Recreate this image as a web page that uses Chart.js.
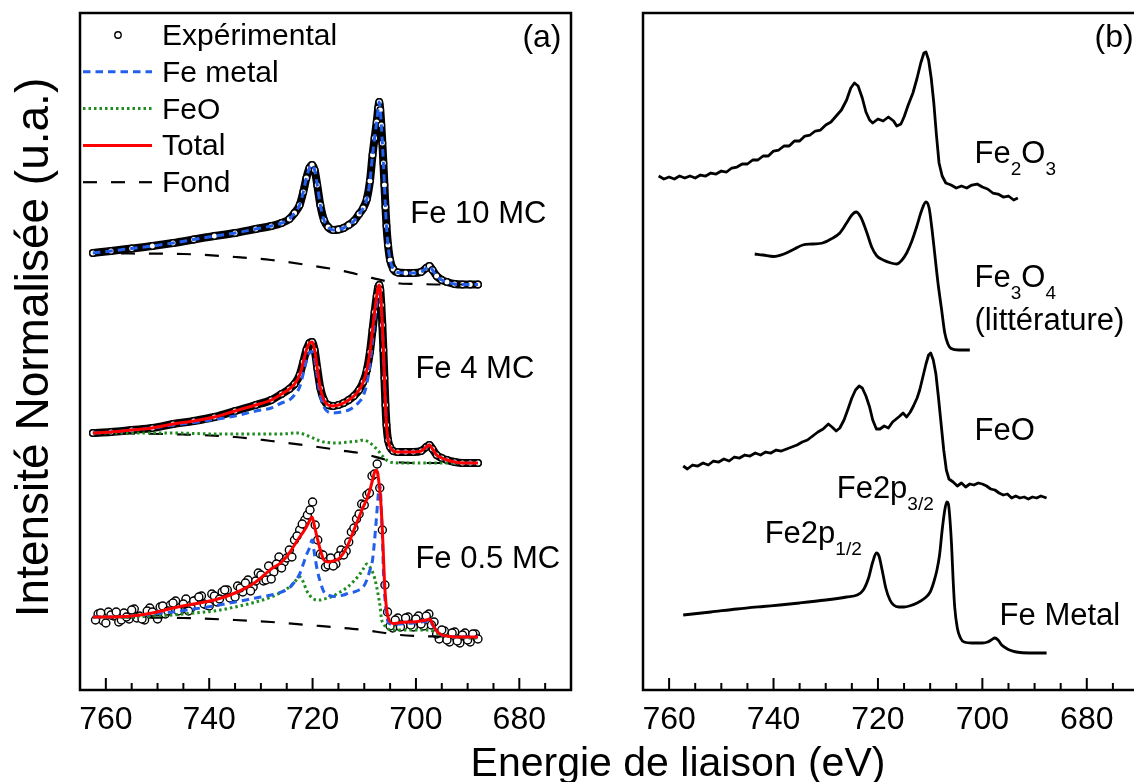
<!DOCTYPE html>
<html>
<head>
<meta charset="utf-8">
<title>Fe 2p XPS</title>
<script src="https://cdn.jsdelivr.net/npm/chart.js@4.4.1/dist/chart.umd.min.js"></script>
<style>
  html, body { margin: 0; padding: 0; background: #fff; width: 1134px; height: 782px; overflow: hidden; }
  #panelA { position: absolute; left: 0; top: 0; }
  #panelB { position: absolute; left: 600px; top: 0; }
  #xTitle {
    position: absolute; left: 378px; width: 600px; top: 741px;
    text-align: center; font: 41px/42px 'Liberation Sans', Arial, sans-serif; color: #000;
    white-space: nowrap;
  }
</style>
</head>
<body>
<canvas id="panelA" width="600" height="782"></canvas>
<canvas id="panelB" width="560" height="782"></canvas>
<div id="xTitle">Energie de liaison (eV)</div>
<script>
'use strict';

const FONT = "'Liberation Sans', Arial, Helvetica, sans-serif";

// binding energy axis (eV), shared by both panels
let xMin = 670;
let xMax = 765;
let majorTicks = [760, 740, 720, 700, 680];

// ---- panel (a): fitted spectra ----
let energyA = [762.5, 759, 755, 751, 747, 743, 739, 735, 731, 728,
  726, 724.5, 723.5, 722.5, 721.8, 721.2, 720.6, 720.1, 719.6, 719.1,
  718.5, 717.8, 717, 716, 715, 714, 713, 712, 711, 710.2,
  709.5, 708.9, 708.4, 708, 707.6, 707.3, 707.1, 706.9, 706.7, 706.5,
  706.3, 706.1, 705.9, 705.7, 705.4, 705, 704.4, 703.5, 702, 700.5,
  699, 698, 697.4, 696.8, 696, 695, 694, 692.5, 691, 689.5, 688];

// Fe 10 MC (data and Fe metal fit coincide)
let fe10 = [447, 449, 451.5, 454, 457, 460.5, 464, 467, 471, 474,
  477, 481, 487, 495, 508, 522, 532, 535, 530, 515,
  495, 480, 473, 470, 470.5, 472, 475, 479, 486, 492,
  501, 519, 545, 562, 578, 592, 598, 590, 575, 557,
  537, 515, 493, 474, 455, 440, 431, 427.5, 427, 427,
  428, 432, 434, 430, 424, 420, 418, 416, 415.5, 415.5, 415.5];

// Fe 4 MC
let fe4Total = [267, 268, 270, 272, 276, 279, 283, 289, 295, 300,
  306, 311, 316, 325, 338, 350, 357, 358, 350, 332,
  312, 300, 295, 294, 295, 297, 300, 304, 310, 318,
  330, 348, 370, 388, 404, 413, 415, 410, 395, 375,
  350, 322, 295, 275, 260, 253, 249, 248, 248, 248,
  249, 253, 255, 251, 245, 242, 240, 238, 237, 237, 237];
let fe4Metal = [267, 268, 270, 272, 275, 277.5, 280.5, 284, 289, 292,
  297, 300, 305, 313, 326.5, 339, 347, 348.5, 341.5, 324,
  304.5, 293, 288, 287, 287.5, 288.5, 290, 293, 298, 304,
  316.5, 336, 359.5, 379, 396.5, 407, 410, 406, 392, 373,
  348.5, 321, 294.5, 275, 260, 253, 249, 248, 248, 248,
  249, 253, 255, 251, 245, 242, 240, 238, 237, 237, 237];
let fe4FeO = [267, 267, 267, 267, 267, 266.5, 266, 266, 266, 266,
  266, 266.5, 267, 267, 266, 265, 263.5, 262.5, 261, 260,
  259, 258, 257.5, 257, 257, 257.5, 258, 258.5, 259, 260,
  259, 257, 255, 253, 251, 249, 248, 246.5, 245, 244,
  243, 242, 241, 240, 239, 238, 237.5, 237, 237, 237,
  237, 237, 237, 237, 237, 237, 237, 237, 237, 237, 237];

// Fe 0.5 MC
let fe05Total = [83, 83, 84, 87, 92, 96, 100, 107, 118, 131,
  138, 147, 155, 163, 168, 173, 179, 183, 173, 162,
  150, 140, 138, 139, 141, 147, 157, 170, 183, 193,
  201, 210, 220, 228, 230, 223, 215, 205, 190, 170,
  145, 120, 103, 92, 83, 78, 76.5, 77, 78, 78,
  79, 80, 81, 76, 69, 65, 64, 63, 63, 63, 63];
let fe05Metal = [83, 83, 84, 86, 88, 91, 94, 98, 102, 105,
  108, 112, 118, 126, 136, 145, 152, 160, 145, 130,
  118, 108, 105, 103.5, 104, 105, 107, 108, 110, 113,
  120, 130, 140, 160, 185, 205, 215, 212, 190, 165,
  130, 108, 96, 86, 78, 76, 75.5, 76, 76.5, 77,
  78, 79, 80, 75, 69, 65, 64, 63, 63, 63, 63];
let fe05FeO = [83, 83, 83, 84, 85, 87, 89, 93, 98, 103,
  108, 113, 118, 123, 118, 110, 105, 102, 100.5, 100,
  100, 101, 102, 104, 107, 110, 114, 119, 125, 131,
  136, 133, 128, 122, 113, 105, 99, 92, 82, 78,
  77, 75, 73, 72, 71, 70.5, 70, 70, 70, 70,
  70, 70, 70, 69, 67, 65, 64, 63, 62.5, 62, 62];

// measured points, 0.5 MC (two interleaved scans)
let energyExp05 = [762, 761, 760, 759, 758, 757, 756, 755, 754, 753,
  752, 751, 750, 749, 748, 747, 746, 745, 744, 743,
  742, 741, 740, 739, 738, 737, 736, 735, 734, 733,
  732, 731, 730, 729, 728, 727, 726, 725, 724, 723,
  722, 721, 720.5, 720, 719, 718, 717, 716, 715, 714,
  713, 712, 711, 710, 709, 708, 707.5, 707, 706.5, 706,
  705.5, 705, 704, 703, 702, 701, 700, 699, 698, 697,
  696, 695, 694, 693, 692, 691, 690, 689, 688];
let fe05Exp = [80, 87, 77, 85, 88, 80, 83, 90, 82, 81,
  89, 88, 81, 94, 89, 97, 89, 96, 89, 99,
  103, 96, 94, 104, 101, 110, 102, 103, 112, 117,
  109, 119, 125, 120, 121, 136, 132, 142, 143, 164,
  176, 185, 190, 198, 160, 145, 135, 134, 144, 145,
  158, 172, 186, 195, 207, 226, 236, 212, 170, 115,
  88, 74, 80, 73, 82, 75, 81, 76, 84, 75,
  66, 70, 60, 67, 59, 65, 60, 66, 61];
let energyExp05b = [761.5, 760.5, 759.5, 758.5, 757.5, 756.5, 755.5, 754.5, 753.5, 752.5,
  751.5, 750.5, 749.5, 748.5, 747.5, 746.5, 745.5, 744.5, 743.5, 742.5,
  741.5, 740.5, 739.5, 738.5, 737.5, 736.5, 735.5, 734.5, 733.5, 732.5,
  731.5, 730.5, 729.5, 728.5, 727.5, 726.5, 725.5, 724.5, 723.5, 722.5,
  721.5, 719.5, 718.5, 717.5, 716.5, 715.5, 714.5, 713.5, 712.5, 711.5,
  710.5, 709.5, 708.5, 704.5, 703.5, 702.5, 701.5, 700.5, 699.5, 698.5,
  697.5, 696.5, 695.5, 694.5, 693.5, 692.5, 691.5, 690.5, 689.5, 688.5];
let fe05ExpB = [86, 79, 88, 84, 78, 87, 81, 91, 84, 80,
  92, 85, 93, 86, 95, 99, 90, 101, 92, 100,
  104, 95, 106, 98, 108, 110, 101, 114, 108, 120,
  113, 127, 119, 134, 128, 143, 138, 150, 160, 170,
  180, 175, 146, 133, 142, 136, 150, 149, 168, 181,
  196, 205, 224, 72, 82, 74, 83, 73, 84, 74,
  86, 78, 61, 69, 58, 68, 57, 67, 58, 66];

// Shirley-type backgrounds ("Fond")
let energyBg = [762.5, 755, 745, 735, 728, 721, 715, 710, 706, 703, 700, 695, 688];
let bg10 = [447, 446.5, 446, 443, 440, 435, 430, 424, 419, 416.5, 416, 415.5, 415.5];
let bg4 = [267, 266.5, 265.5, 263, 259, 254.5, 250, 246, 240.5, 237.5, 237, 237, 237];
let bg05 = [83, 82.5, 82, 80, 78, 75, 72.5, 70, 67, 65, 64, 63.5, 63];

// ---- panel (b): reference spectra ----
let energyFe2O3 = [762, 761, 760, 759, 758, 757, 756, 755, 754, 753,
  752, 751, 750, 749, 748, 747, 746, 745, 744, 743,
  742, 741, 740, 739, 738, 737, 736, 735, 734, 733,
  732, 731, 730, 729, 728, 727, 726, 725.2, 724.5, 723.8,
  723, 722.3, 721.6, 721, 720, 719, 718, 717, 716.4, 715.6,
  715, 714.2, 713.3, 712.5, 711.8, 711.2, 710.8, 710.3, 709.8, 709.3,
  708.8, 708.3, 707.7, 707, 706, 705, 704, 703, 702, 701,
  700, 699, 698, 697, 696, 695, 694, 693.2];
let fe2o3 = [524, 521, 523, 521, 524, 522, 524, 522, 525, 524,
  527, 526, 529, 528, 532, 533, 536, 536, 540, 540,
  544, 544, 549, 550, 554, 554, 559, 559, 564, 565,
  569, 570, 575, 578, 584, 590, 600, 612, 617, 614,
  602, 588, 580, 577, 581, 579, 583, 579, 574, 576,
  583, 595, 607, 622, 637, 647, 648, 640, 622, 597,
  565, 537, 524, 517, 515, 512, 514, 512, 515, 516,
  513, 511, 507, 506, 503, 504, 500, 502];

let energyFe3O4 = [743.6, 742, 740, 738, 736, 734.4, 732.5, 730.6, 729, 727.3,
  726, 725, 724.2, 723.3, 722.1, 721.2, 720.2, 719, 717.5, 716.4,
  715.4, 714.5, 713.5, 712.6, 711.6, 710.8, 710.2, 709.7, 709.1, 708.5,
  707.8, 707.2, 706.6, 706, 704.5, 702.4];
let fe3o4 = [446, 445, 443.5, 446, 451, 455, 456, 457, 461, 467,
  477, 485, 488, 483, 467, 453, 444, 440, 437, 436,
  440, 447, 459, 473, 490, 498, 492, 473, 445, 417,
  390, 367, 356, 351.5, 350, 350];

let energyFeO = [757.3, 756.5, 755.5, 754.5, 753.5, 752.5, 751.5, 750.5, 749.5, 748.5,
  747.5, 746.5, 745.5, 744.5, 743.5, 742.5, 741.5, 740.5, 739.5, 738.5,
  737.5, 736.5, 735.5, 734.5, 733.5, 732.5, 731.5, 730.5, 729.5, 728.8,
  728, 727.3, 726.5, 725.8, 725, 724.3, 723.6, 723, 722.3, 721.6,
  721, 720.3, 719.6, 718.8, 718, 717.2, 716.5, 715.8, 715.2, 714.5,
  713.8, 713.2, 712.5, 712, 711.4, 710.8, 710.3, 709.9, 709.4, 708.9,
  708.4, 707.9, 707.4, 706.9, 706.4, 705.6, 704.8, 704, 703.2, 702.4,
  701.6, 700.8, 700, 699.2, 698.4, 697.6, 696.8, 696, 695.2, 694.4,
  693.6, 692.8, 692, 691.2, 690.4, 689.6, 688.8, 687.7];
let feO = [234, 231, 235, 234, 237, 235, 239, 238, 241, 239,
  243, 242, 245, 244, 247, 245, 248, 247, 250, 249,
  251, 253, 255, 258, 260, 264, 268, 271, 276, 273,
  269, 272, 280, 290, 302, 310, 314, 312, 304, 293,
  280, 271, 271, 274, 272, 278, 281, 284, 287, 283,
  288, 294, 302, 310, 323, 336, 345, 347, 340, 326,
  302, 276, 250, 230, 221, 218, 214, 217, 213, 216,
  215, 217, 216, 214, 211, 210, 207, 205, 206, 202,
  204, 202, 203, 201, 203, 202, 204, 202];

let energyMetal = [757.3, 752, 747, 742, 738.8, 735, 730, 726, 724, 722.8,
  721.8, 721, 720.3, 719.8, 719.2, 718.5, 717.7, 717, 716, 715,
  714, 712.5, 711, 710, 709.3, 708.7, 708.2, 707.7, 707.2, 706.8,
  706.5, 706.2, 705.9, 705.6, 705.3, 704.8, 704.2, 703.5, 702, 700,
  699, 698.3, 697.6, 697, 696.3, 695.5, 694.8, 693.5, 691, 687.7];
let feMetal = [85, 88, 91, 93.5, 95, 97, 100, 103, 105, 110,
  122, 138, 147, 144, 130, 112, 100, 95, 93, 93,
  94, 97, 102, 108, 118, 130, 145, 170, 190, 198,
  196, 180, 155, 120, 93, 72, 62, 58, 57, 57,
  58, 60, 62, 60, 55, 52, 50, 48, 47, 47];

const expStyle = { borderColor: '#000', pointBackgroundColor: '#fff', pointBorderColor: '#000' };
const metalStyle = { borderColor: 'rgb(35,95,235)', borderDash: [7.5, 5], borderWidth: 3 };
const feoStyle = { borderColor: 'rgb(30,140,30)', borderDash: [2.5, 3], borderWidth: 3 };
const totalStyle = { borderColor: 'rgb(255,0,0)', borderWidth: 3 };
const fondStyle = { borderColor: '#000', borderDash: [14, 14], borderWidth: 2.2 };

function pts(xs, ys) {
  return xs.map((x, i) => ({ x: x, y: ys[i] }));
}

function fitLine(label, xs, ys, style, order) {
  return Object.assign({
    label: label, data: pts(xs, ys), pointRadius: 0, fill: false,
    cubicInterpolationMode: 'monotone', borderJoinStyle: 'round', order: order
  }, style);
}

function denseExp(xs, ys) {
  return Object.assign({
    label: 'Expérimental', data: pts(xs, ys), borderWidth: 8,
    cubicInterpolationMode: 'monotone', borderJoinStyle: 'round', borderCapStyle: 'round',
    pointRadius: 3.2, pointBorderWidth: 1.4, order: 10
  }, expStyle);
}

function scatterExp(xs, ys) {
  return Object.assign({
    label: 'Expérimental', data: pts(xs, ys), showLine: false,
    pointRadius: 4, pointBorderWidth: 1.4, order: 10
  }, expStyle);
}

function refLine(xs, ys, smooth) {
  return {
    data: pts(xs, ys), borderColor: '#000', borderWidth: 2.8,
    pointRadius: 0, fill: false, borderJoinStyle: 'round',
    cubicInterpolationMode: smooth ? 'monotone' : 'default', tension: 0
  };
}

function drawRich(ctx, text, x, y, size) {
  let parts = text.split(/(_\{[^}]*\})/).filter(Boolean);
  let cx = x;
  for (let p of parts) {
    if (p.startsWith('_{')) {
      let t = p.slice(2, -1);
      ctx.font = Math.round(size * 0.6) + 'px ' + FONT;
      ctx.fillText(t, cx, y + 12);
      cx += ctx.measureText(t).width;
    } else {
      ctx.font = size + 'px ' + FONT;
      ctx.fillText(p, cx, y);
      cx += ctx.measureText(p).width;
    }
  }
}

function drawLegend(chart) {
  let ctx = chart.ctx;
  let a = chart.chartArea;
  let names = ['Expérimental', 'Fe metal', 'FeO', 'Total', 'Fond'];
  names.forEach((name, i) => {
    let ds = chart.data.datasets.find(d => d.label === name);
    let yc = a.top + 22 + i * 36.8;
    if (name === 'Expérimental') {
      ctx.beginPath();
      ctx.arc(a.left + 38, yc, 3.2, 0, Math.PI * 2);
      ctx.fillStyle = '#fff';
      ctx.fill();
      ctx.lineWidth = 1.4;
      ctx.strokeStyle = '#000';
      ctx.setLineDash([]);
      ctx.stroke();
    } else {
      ctx.beginPath();
      ctx.strokeStyle = ds.borderColor;
      ctx.lineWidth = ds.borderWidth;
      ctx.setLineDash(ds.borderDash || []);
      ctx.moveTo(a.left + 3, yc);
      ctx.lineTo(a.left + 72, yc);
      ctx.stroke();
    }
    ctx.setLineDash([]);
    ctx.fillStyle = '#000';
    ctx.font = '30px ' + FONT;
    ctx.textBaseline = 'alphabetic';
    ctx.fillText(name, a.left + 82, yc + 10);
  });
}

const decoPlugin = {
  id: 'deco',
  afterDraw(chart, args, opts) {
    let ctx = chart.ctx;
    let a = chart.chartArea;
    let x = chart.scales.x;
    let y = chart.scales.y;
    ctx.save();
    ctx.setLineDash([]);
    ctx.strokeStyle = '#000';
    ctx.lineWidth = 2.5;
    ctx.strokeRect(a.left, a.top, a.right - a.left, a.bottom - a.top);
    // inward ticks, minor every 5 eV
    ctx.lineWidth = 2;
    for (let v = 675; v <= 760; v += 5) {
      let px = x.getPixelForValue(v);
      let len = majorTicks.includes(v) ? 12 : 7;
      ctx.beginPath();
      ctx.moveTo(px, a.bottom);
      ctx.lineTo(px, a.bottom - len);
      ctx.stroke();
    }
    ctx.fillStyle = '#000';
    ctx.textBaseline = 'alphabetic';
    ctx.textAlign = 'left';
    (opts.notes || []).forEach(n => {
      drawRich(ctx, n.text, x.getPixelForValue(n.x), y.getPixelForValue(n.y), n.size || 31);
    });
    if (opts.legend) drawLegend(chart);
    if (opts.yTitle) {
      ctx.save();
      ctx.translate(35, (a.top + a.bottom) / 2 - 4);
      ctx.rotate(-Math.PI / 2);
      ctx.textAlign = 'center';
      ctx.textBaseline = 'middle';
      ctx.font = '46px ' + FONT;
      ctx.fillText(opts.yTitle, 0, 0);
      ctx.restore();
    }
    ctx.restore();
  }
};

function panelOptions(padLeft, padRight, deco) {
  return {
    responsive: false,
    animation: false,
    layout: { padding: { left: padLeft, right: padRight, top: 13, bottom: 0 } },
    plugins: { legend: { display: false }, tooltip: { enabled: false }, deco: deco },
    elements: { line: { borderCapStyle: 'butt' } },
    scales: {
      x: {
        type: 'linear', reverse: true, min: xMin, max: xMax,
        grid: { display: false, drawTicks: false },
        border: { display: false },
        afterBuildTicks: s => { s.ticks = majorTicks.map(v => ({ value: v })); },
        afterFit: s => { s.height = 92; },
        ticks: { color: '#000', font: { family: FONT, size: 32 }, padding: 11, maxRotation: 0 }
      },
      y: { display: false, min: 10, max: 687 }
    }
  };
}

new Chart(document.getElementById('panelA'), {
  type: 'line',
  data: {
    datasets: [
      denseExp(energyA, fe10),
      fitLine('Fe metal', energyA, fe10, metalStyle, 2),
      fitLine('Fond', energyBg, bg10, fondStyle, 4),
      denseExp(energyA, fe4Total),
      fitLine('Fond', energyBg, bg4, fondStyle, 4),
      fitLine('FeO', energyA, fe4FeO, feoStyle, 3),
      fitLine('Fe metal', energyA, fe4Metal, metalStyle, 2),
      fitLine('Total', energyA, fe4Total, totalStyle, 1),
      scatterExp(energyExp05, fe05Exp),
      scatterExp(energyExp05b, fe05ExpB),
      fitLine('Fond', energyBg, bg05, fondStyle, 4),
      fitLine('FeO', energyA, fe05FeO, feoStyle, 3),
      fitLine('Fe metal', energyA, fe05Metal, metalStyle, 2),
      fitLine('Total', energyA, fe05Total, totalStyle, 1)
    ]
  },
  options: panelOptions(80, 29, {
    legend: true,
    yTitle: 'Intensité Normalisée (u.a.)',
    notes: [
      { text: '(a)', x: 679.4, y: 653, size: 32 },
      { text: 'Fe 10 MC', x: 701.1, y: 477 },
      { text: 'Fe 4 MC', x: 700.1, y: 322 },
      { text: 'Fe 0.5 MC', x: 700.1, y: 132 }
    ]
  }),
  plugins: [decoPlugin]
});

new Chart(document.getElementById('panelB'), {
  type: 'line',
  data: {
    datasets: [
      refLine(energyFe2O3, fe2o3, false),
      refLine(energyFe3O4, fe3o4, true),
      refLine(energyFeO, feO, false),
      refLine(energyMetal, feMetal, true)
    ]
  },
  options: panelOptions(43, 21, {
    notes: [
      { text: '(b)', x: 678.5, y: 653, size: 32 },
      { text: 'Fe_{2}O_{3}', x: 701.5, y: 537 },
      { text: 'Fe_{3}O_{4}', x: 701.5, y: 413 },
      { text: '(littérature)', x: 701.5, y: 370 },
      { text: 'FeO', x: 701.5, y: 260 },
      { text: 'Fe2p_{3/2}', x: 727.9, y: 202 },
      { text: 'Fe2p_{1/2}', x: 741.7, y: 157 },
      { text: 'Fe Metal', x: 696.7, y: 75 }
    ]
  }),
  plugins: [decoPlugin]
});
</script>
</body>
</html>
